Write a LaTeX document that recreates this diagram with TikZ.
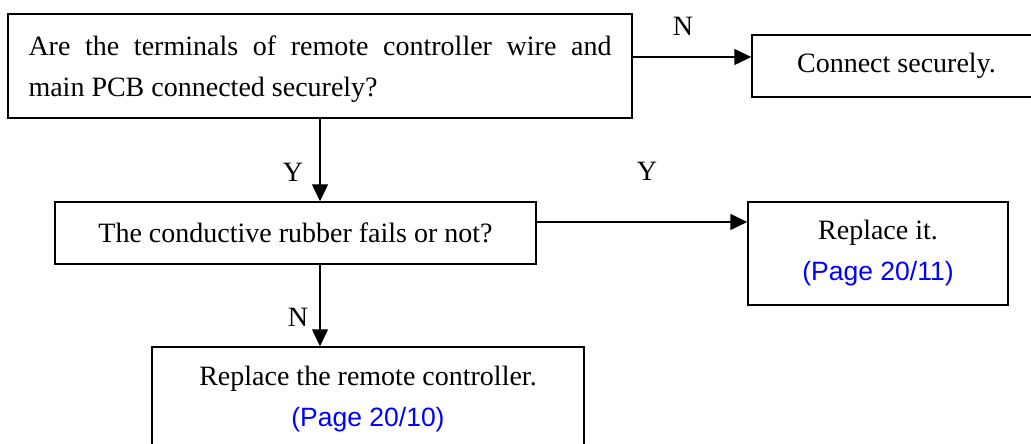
\documentclass[tikz,border=0pt]{standalone}
\usepackage{fontspec}
\setmainfont{Liberation Serif}
\newfontfamily\pagefont{Liberation Sans}
\usetikzlibrary{arrows.meta}
\tikzset{>={Triangle[length=17pt,width=16pt]}}
\tikzset{
  box/.style={draw,line width=1.4pt,inner sep=0pt,align=center,font=\fontsize{28}{41}\selectfont},
  flow/.style={->,line width=1.4pt},
  lbl/.style={font=\fontsize{28}{32}\selectfont}
}
\newcommand{\pg}[1]{{\pagefont\fontsize{26.5}{41}\selectfont\color{blue}(Page #1)}}

\begin{document}
\begin{tikzpicture}[x=1pt,y=1pt]
    \path[use as bounding box,clip] (0,0) rectangle (1031,444);
    % boxes
    \node[box,minimum width=624pt,minimum height=104pt,text width=583pt,align=justify] (wire) at (320,378)
      {\rule{0pt}{26pt}Are the terminals of remote controller wire and\linebreak main PCB connected securely?};
    \node[box,minimum width=289pt,minimum height=62pt] (connect) at (896.5,378) {Connect securely.};
    \node[box,minimum width=481pt,minimum height=62pt] (rubber) at (295.5,211) {The conductive rubber fails or not?};
    \node[box,minimum width=260pt,minimum height=103pt] (rubrepl) at (878,190.5) {Replace it.\\\pg{20/11}};
    \node[box,minimum width=432pt,minimum height=105pt] (ctrlrepl) at (368,44.5) {Replace the remote controller.\\\pg{20/10}};
    % connectors
    \coordinate (wireout) at ([yshift=9pt]wire.east);
    \coordinate (rubout) at ([yshift=11pt]rubber.east);
    \draw[flow] (wireout) -- (wireout -| connect.west);
    \draw[flow] (wire.south) -- (wire.south |- rubber.north);
    \draw[flow] (rubout) -- (rubout -| rubrepl.west);
    \draw[flow] (wire.south |- rubber.south) -- (wire.south |- ctrlrepl.north);
    % answers
    \node[lbl] (wireno) at (683,418) {N};
    \node[lbl] (wireyes) at (293,272) {Y};
    \node[lbl] (rubyes) at (647,273) {Y};
    \node[lbl] (rubno) at (298,127) {N};
\end{tikzpicture}
\end{document}
